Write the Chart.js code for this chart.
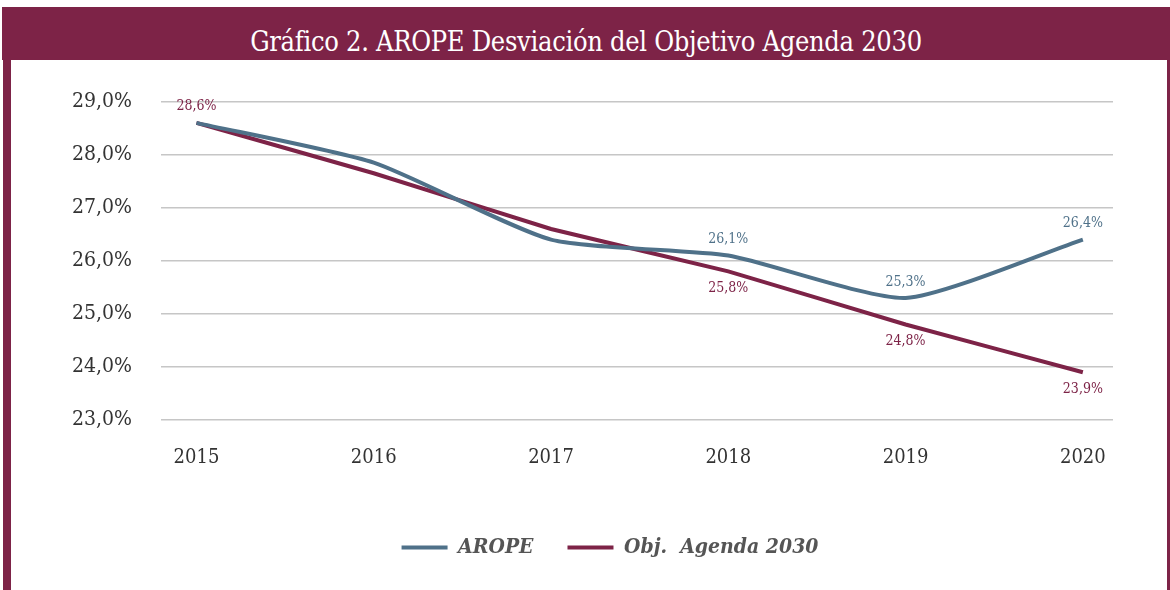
<!DOCTYPE html>
<html>
<head>
<meta charset="utf-8">
<script src="https://cdn.jsdelivr.net/npm/chart.js@4.4.1/dist/chart.umd.min.js"></script>
<style>
  html, body { margin: 0; padding: 0; background: #ffffff; width: 1170px; height: 590px; overflow: hidden; position: relative; }
  #frame { position: absolute; left: 3px; top: 7px; width: 1172px; height: 600px; box-sizing: border-box;
           border-left: 8px solid #7d2347; border-right: 8px solid #7d2347; }
  #header { position: absolute; left: 2px; top: 7px; width: 1168px; height: 53px; background: #7d2347;
            color: #ffffff; font-family: "DejaVu Serif Condensed", "DejaVu Serif", serif; font-size: 27px;
            line-height: 70px; text-align: center; letter-spacing: -0.3px; overflow: hidden; }
  #chartBox { position: absolute; left: 11px; top: 60px; width: 1156px; height: 530px; }
</style>
</head>
<body>
<div id="frame"></div>
<div id="header">Gráfico 2. AROPE Desviación del Objetivo Agenda 2030</div>
<div id="chartBox"><canvas id="c" width="1156" height="530"></canvas></div>
<script>
const years = [2015, 2016, 2017, 2018, 2019, 2020];
const aropeValues = [28.6, 27.85, 26.4, 26.1, 25.3, 26.4];
const objValues = [28.6, 27.65, 26.6, 25.8, 24.8, 23.9];
const aropeLabelSide = [null, null, null, 'above', 'above', 'above'];
const objLabelSide = ['above', null, null, 'below', 'below', 'below'];
const seriesNames = ['AROPE', 'Obj.  Agenda 2030'];
const yTickValues = [23, 24, 25, 26, 27, 28, 29];

const AROPE_COLOR = '#4f7189';
const OBJ_COLOR = '#7d2347';
const FONT = '"DejaVu Serif Condensed", "DejaVu Serif", serif';

function fmtPct(v) { return v.toFixed(1).replace('.', ',') + '%'; }

const labelPlugin = {
  id: 'pointLabels',
  afterDatasetsDraw(chart) {
    const ctx = chart.ctx;
    const sides = [aropeLabelSide, objLabelSide];
    ctx.save();
    ctx.font = '14px ' + FONT;
    ctx.textAlign = 'center';
    ctx.textBaseline = 'middle';
    chart.data.datasets.forEach((ds, di) => {
      const meta = chart.getDatasetMeta(di);
      meta.data.forEach((pt, i) => {
        const side = sides[di][i];
        if (!side) return;
        ctx.fillStyle = ds.borderColor;
        const dy = side === 'above' ? -16 : 17;
        ctx.fillText(fmtPct(ds.data[i].y), pt.x, pt.y + dy);
      });
    });
    ctx.restore();
  }
};

const legendShift = {
  id: 'legendShift',
  afterLayout(chart) {
    if (chart.legend) { chart.legend.left += 48; chart.legend.right += 48; }
  }
};

new Chart(document.getElementById('c'), {
  type: 'line',
  data: {
    datasets: [
      { label: seriesNames[0], data: years.map((x, i) => ({ x: x, y: aropeValues[i] })),
        borderColor: AROPE_COLOR, backgroundColor: AROPE_COLOR, borderWidth: 4, pointRadius: 0,
        tension: 0.2, fill: false },
      { label: seriesNames[1], data: years.map((x, i) => ({ x: x, y: objValues[i] })),
        borderColor: OBJ_COLOR, backgroundColor: OBJ_COLOR, borderWidth: 4, pointRadius: 0,
        tension: 0.08, fill: false }
    ]
  },
  options: {
    responsive: false,
    animation: false,
    layout: { padding: { left: 0, right: 54, top: 37, bottom: 22 } },
    plugins: {
      tooltip: { enabled: false },
      legend: {
        position: 'bottom',
        labels: {
          boxWidth: 46, boxHeight: 4, padding: 34, color: '#555555',
          font: { family: FONT, size: 21, style: 'italic', weight: 'bold' },
          generateLabels: (chart) => Chart.defaults.plugins.legend.labels.generateLabels(chart)
            .map(l => Object.assign(l, { lineWidth: 0 }))
        }
      }
    },
    scales: {
      x: {
        type: 'linear', min: 2014.8, max: 2020.17,
        afterBuildTicks: (s) => { s.ticks = years.map(v => ({ value: v })); },
        afterFit: (s) => { s.height = 83; },
        grid: { display: false, drawTicks: false },
        border: { display: false },
        ticks: { padding: 26, color: '#333333', font: { family: FONT, size: 20 }, callback: (v) => String(v), maxRotation: 0, autoSkip: false }
      },
      y: {
        min: 23, max: 29,
        afterBuildTicks: (s) => { s.ticks = yTickValues.map(v => ({ value: v })); },
        afterFit: (s) => { s.width = 150; },
        grid: { color: '#c6c6c6', lineWidth: 1.5, drawTicks: false },
        border: { display: false },
        ticks: { padding: 29, color: '#333333', font: { family: FONT, size: 21 }, callback: (v) => fmtPct(v) }
      }
    }
  },
  plugins: [labelPlugin, legendShift]
});
</script>
</body>
</html>
